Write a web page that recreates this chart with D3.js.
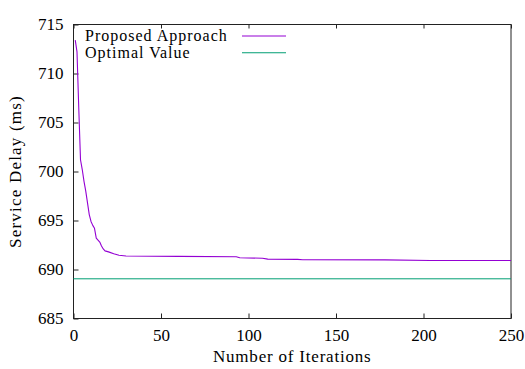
<!DOCTYPE html>
<html>
<head>
<meta charset="utf-8">
<script src="https://cdn.jsdelivr.net/npm/d3@7"></script>
</head>
<body style="margin:0">
<script>
// Data (iteration -> service delay in ms)
const iterations = [1, 2, 3, 4, 5, 6, 7, 8, 9, 10, 11, 12, 13, 14, 15, 16, 17, 18, 20, 23, 26, 30, 60, 93, 95, 108, 111, 128, 131, 178, 204, 250];
const delays = [713.4, 712.2, 706.5, 701.2, 700.2, 699.0, 698.0, 696.8, 695.6, 694.9, 694.5, 694.2, 693.2, 693.0, 692.8, 692.4, 692.1, 691.9, 691.8, 691.6, 691.45, 691.37, 691.34, 691.3, 691.2, 691.15, 691.06, 691.03, 691.0, 690.98, 690.92, 690.92];
const optimalValue = 689.05;
const optimalRange = [0, 250];

const xTicks = [0, 50, 100, 150, 200, 250];
const yTicks = [685, 690, 695, 700, 705, 710, 715];
const seriesNames = ["Proposed Approach", "Optimal Value"];
const seriesColors = ["#9400d3", "#009e73"];

const serif = '"Liberation Serif"';

const margin = { top: 24.5, right: 14, bottom: 50.5, left: 73.5 };
const width = 525;
const height = 369;
const innerW = width - margin.left - margin.right;
const innerH = height - margin.top - margin.bottom;

const svg = d3.select("body").append("svg")
  .attr("width", width)
  .attr("height", height);

const g = svg.append("g")
  .attr("transform", `translate(${margin.left}, ${margin.top})`);

const x = d3.scaleLinear().domain([0, 250]).range([0, innerW]);
const y = d3.scaleLinear().domain([685, 715]).range([innerH, 0]);

// axes: inward ticks, mirrored on top only
g.append("g")
  .attr("transform", `translate(0, ${innerH})`)
  .call(d3.axisBottom(x).tickValues(xTicks).tickSizeInner(-5).tickSizeOuter(0).tickPadding(10));

g.append("g")
  .call(d3.axisTop(x).tickValues(xTicks).tickSizeInner(-4).tickSizeOuter(0).tickFormat(""));

g.append("g")
  .call(d3.axisLeft(y).tickValues(yTicks).tickSizeInner(-5).tickSizeOuter(0).tickPadding(10));

g.selectAll(".domain").remove();
g.selectAll(".tick line").attr("stroke", "#222");
g.selectAll(".tick text")
  .attr("fill", "#000")
  .style("font-family", serif, "important")
  .style("font-size", "17px", "important");

// frame
g.append("rect")
  .attr("width", innerW)
  .attr("height", innerH)
  .attr("fill", "none")
  .attr("stroke", "#222");

// optimal value
g.append("line")
  .attr("x1", x(optimalRange[0]))
  .attr("x2", x(optimalRange[1]))
  .attr("y1", y(optimalValue))
  .attr("y2", y(optimalValue))
  .attr("stroke", seriesColors[1]);

// proposed approach
const line = d3.line()
  .x((d, i) => x(iterations[i]))
  .y(d => y(d));

g.append("path")
  .datum(delays)
  .attr("fill", "none")
  .attr("stroke", seriesColors[0])
  .attr("stroke-width", 1.1)
  .attr("stroke-linejoin", "round")
  .attr("d", line);

// axis titles
svg.append("text")
  .attr("x", margin.left + innerW / 2)
  .attr("y", 362)
  .attr("text-anchor", "middle")
  .style("font-family", serif, "important")
  .style("font-size", "17px", "important")
  .style("letter-spacing", "0.8px")
  .text("Number of Iterations");

svg.append("text")
  .attr("transform", `translate(21, ${margin.top + innerH / 2}) rotate(-90)`)
  .attr("text-anchor", "middle")
  .style("font-family", serif, "important")
  .style("font-size", "17px", "important")
  .style("letter-spacing", "1.2px")
  .text("Service Delay (ms)");

// legend
const legend = svg.append("g")
  .selectAll("g")
  .data(seriesNames)
  .join("g")
  .attr("transform", (d, i) => `translate(0, ${36 + i * 16.7})`);

legend.append("text")
  .attr("x", 85)
  .attr("dy", "0.3em")
  .style("font-family", serif, "important")
  .style("font-size", "16px", "important")
  .style("letter-spacing", "1px")
  .text(d => d);

legend.append("line")
  .attr("x1", 242)
  .attr("x2", 286)
  .attr("stroke", (d, i) => seriesColors[i])
  .attr("stroke-width", 1.1);
</script>
</body>
</html>
